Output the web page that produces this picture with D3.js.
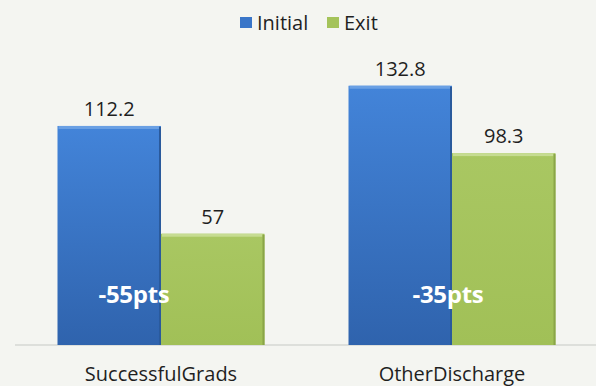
<!DOCTYPE html>
<html>
<head>
<meta charset="utf-8">
<script src="https://cdn.jsdelivr.net/npm/d3@7"></script>
<style>
  html, body { margin: 0; padding: 0; background: #f4f5f1; }
  svg { display: block; font-family: "Open Sans", "Noto Sans", sans-serif; }
</style>
</head>
<body>
<svg id="chart" width="596" height="386"></svg>
<script>
// Chart data
const categories = ["SuccessfulGrads", "OtherDischarge"];
const seriesNames = ["Initial", "Exit"];
const initialValues = [112.2, 132.8];
const exitValues = [57, 98.3];
const changeLabels = ["-55pts", "-35pts"];

const width = 596, height = 386;
const baseline = 345;
const svg = d3.select("#chart");

const rows = categories.map((c, i) => ({
  cat: c,
  values: [
    { key: "Initial", value: initialValues[i] },
    { key: "Exit", value: exitValues[i] }
  ],
  change: changeLabels[i]
}));

const y = d3.scaleLinear().domain([0, 140]).range([baseline, baseline - 273.3]);
const x0 = d3.scaleBand().domain(categories).range([57.5, 555.5]).paddingInner(0.2887).paddingOuter(0);
const x1 = d3.scaleBand().domain(seriesNames).range([0, x0.bandwidth()]);

// Gradients for bar fills
const defs = svg.append("defs");
const gBlue = defs.append("linearGradient").attr("id", "gBlue").attr("x1", 0).attr("y1", 0).attr("x2", 0).attr("y2", 1);
gBlue.append("stop").attr("offset", "0%").attr("stop-color", "#4384d9");
gBlue.append("stop").attr("offset", "100%").attr("stop-color", "#2f63ad");
const gGreen = defs.append("linearGradient").attr("id", "gGreen").attr("x1", 0).attr("y1", 0).attr("x2", 0).attr("y2", 1);
gGreen.append("stop").attr("offset", "0%").attr("stop-color", "#a9c762");
gGreen.append("stop").attr("offset", "100%").attr("stop-color", "#a1c057");

const fills = { Initial: "url(#gBlue)", Exit: "url(#gGreen)" };
const edge = { Initial: "#2a5a9c", Exit: "#8aa548" };
const topHi = { Initial: "#6aa0e4", Exit: "#c6dc92" };
const solid = { Initial: "#3a76c8", Exit: "#a4c35a" };

// Axis baseline
svg.append("line")
  .attr("x1", 15).attr("x2", width)
  .attr("y1", baseline).attr("y2", baseline)
  .attr("stroke", "#d6d7d3").attr("stroke-width", 1.5);

const groups = svg.selectAll("g.group").data(rows).join("g")
  .attr("class", "group")
  .attr("transform", d => `translate(${x0(d.cat)},0)`);

const bars = groups.selectAll("g.bar").data(d => d.values).join("g").attr("class", "bar");

bars.append("rect")
  .attr("x", d => x1(d.key))
  .attr("y", d => y(d.value))
  .attr("width", x1.bandwidth())
  .attr("height", d => y(0) - y(d.value))
  .attr("fill", d => fills[d.key]);

// bevel: light top strip and darker right edge
bars.append("rect")
  .attr("x", d => x1(d.key) + 1)
  .attr("y", d => y(d.value))
  .attr("width", x1.bandwidth() - 3)
  .attr("height", 3)
  .attr("fill", d => topHi[d.key]);
bars.append("rect")
  .attr("x", d => x1(d.key) + x1.bandwidth() - 2)
  .attr("y", d => y(d.value) + 1)
  .attr("width", 2)
  .attr("height", d => y(0) - y(d.value) - 1)
  .attr("fill", d => edge[d.key]);

// value labels
bars.append("text")
  .attr("x", d => x1(d.key) + x1.bandwidth() / 2)
  .attr("y", d => y(d.value) - 10)
  .attr("text-anchor", "middle")
  .attr("font-size", 20)
  .attr("fill", "#1f1f1f")
  .text(d => d.value);

// change annotations inside the bars
const changeOffsets = [41, 64];
groups.append("text")
  .attr("x", (d, i) => changeOffsets[i])
  .attr("y", 303)
  .attr("font-size", 24)
  .attr("font-weight", "bold")
  .attr("letter-spacing", -0.3)
  .attr("fill", "#ffffff")
  .text(d => d.change);

// category axis labels
groups.append("text")
  .attr("x", x0.bandwidth() / 2)
  .attr("y", 381)
  .attr("text-anchor", "middle")
  .attr("font-size", 20)
  .attr("fill", "#1f1f1f")
  .text(d => d.cat);

// legend
const legend = svg.append("g");
const legendX = [240, 327];
seriesNames.forEach((s, i) => {
  const g = legend.append("g").attr("transform", `translate(${legendX[i]},17)`);
  g.append("rect").attr("width", 12).attr("height", 11).attr("fill", solid[s]);
  g.append("text").attr("x", 17).attr("y", 13).attr("font-size", 20).attr("fill", "#1f1f1f").text(s);
});
</script>
</body>
</html>
